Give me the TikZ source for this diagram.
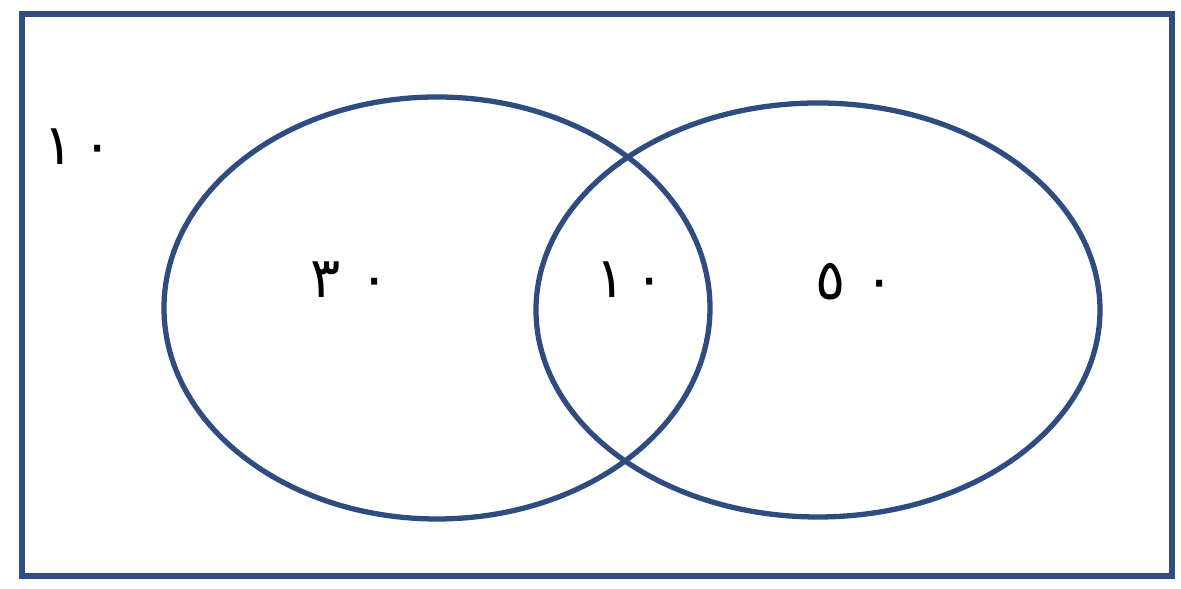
\documentclass[tikz,border=0pt]{standalone}
\usepackage{fontspec}
\newfontfamily\arabicfont[Script=Arabic]{DejaVu Sans}
\usetikzlibrary{positioning}
\definecolor{vennblue}{RGB}{46,76,128}
\tikzset{venn/.style={draw=vennblue,line width=1.5pt},
  num/.style={font=\arabicfont\fontsize{16}{19}\selectfont}}
\begin{document}
\begin{tikzpicture}[x=0.01cm,y=-0.01cm]
\useasboundingbox (0,0) rectangle (1181,589);
\draw[venn] (22,14) rectangle (1172,576);
\draw[venn] (437,308) ellipse (273 and 211);
\draw[venn] (818,310) ellipse (282 and 207);
\node[num] (outside) at (78,147) {١\,٠};
\node[num] (left) at (350,280) {٣\,\,٠};
\node[num] (both) at (630,280) {١\,٠};
\node[num] (right) at (855,282) {٥\,\,٠};
\end{tikzpicture}
\end{document}
